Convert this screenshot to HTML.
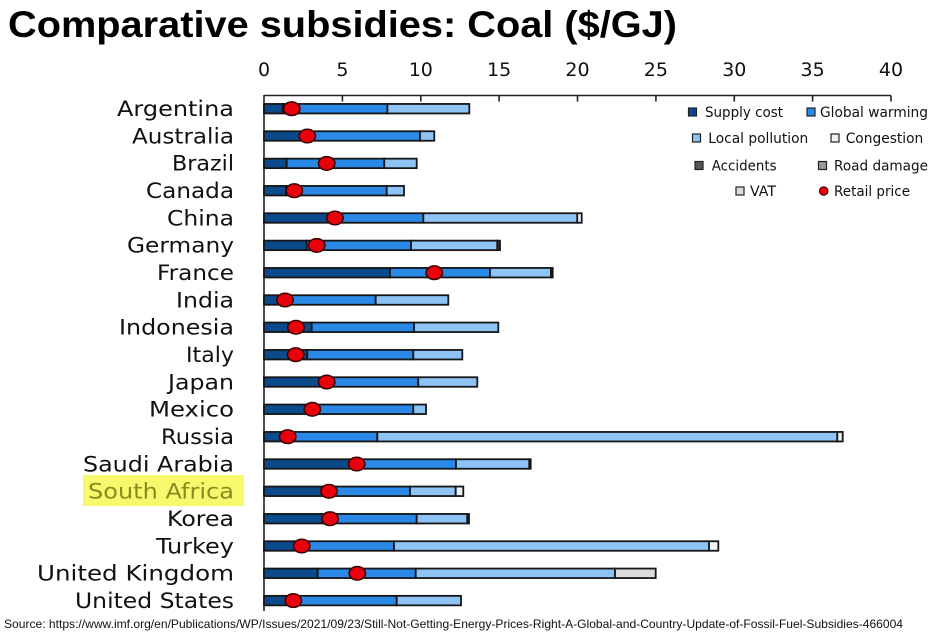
<!DOCTYPE html>
<html><head><meta charset="utf-8"><style>
html,body{margin:0;padding:0;background:#fff;}
svg{display:block;}
</style></head><body>
<svg width="936" height="634" viewBox="0 0 936 634" xmlns="http://www.w3.org/2000/svg">
<rect x="0" y="0" width="936" height="634" fill="#fff"/>
<!-- Title -->
<text x="8" y="37" font-family="Liberation Sans, sans-serif" font-weight="bold" font-size="37" fill="#000" textLength="669" lengthAdjust="spacingAndGlyphs">Comparative subsidies: Coal ($/GJ)</text>

<!-- tick labels -->
<g font-family="DejaVu Sans, sans-serif" font-size="19" fill="#111" text-anchor="middle">
<text x="264" y="76">0</text>
<text x="342.4" y="76">5</text>
<text x="420.8" y="76">10</text>
<text x="499.1" y="76">15</text>
<text x="577.5" y="76">20</text>
<text x="655.9" y="76">25</text>
<text x="734.3" y="76">30</text>
<text x="812.6" y="76">35</text>
<text x="891" y="76">40</text>
</g>

<!-- axes -->
<g stroke="#222" stroke-width="1.6" fill="none">
<line x1="264" y1="95.5" x2="891" y2="95.5"/>
<line x1="264" y1="95" x2="264" y2="611"/>
<line x1="342.4" y1="95.5" x2="342.4" y2="101.5"/>
<line x1="420.8" y1="95.5" x2="420.8" y2="101.5"/>
<line x1="499.1" y1="95.5" x2="499.1" y2="101.5"/>
<line x1="577.5" y1="95.5" x2="577.5" y2="101.5"/>
<line x1="655.9" y1="95.5" x2="655.9" y2="101.5"/>
<line x1="734.3" y1="95.5" x2="734.3" y2="101.5"/>
<line x1="812.6" y1="95.5" x2="812.6" y2="101.5"/>
<line x1="891" y1="95.5" x2="891" y2="101.5"/>
</g>

<!-- highlight -->
<rect x="83" y="475" width="161" height="31" fill="#f8f86c"/>

<!-- labels -->
<g font-family="DejaVu Sans, sans-serif" font-size="21.5" fill="#111" text-anchor="end">
<text x="234" y="116" textLength="117" lengthAdjust="spacingAndGlyphs">Argentina</text>
<text x="234" y="143.3" textLength="102" lengthAdjust="spacingAndGlyphs">Australia</text>
<text x="234" y="170.7" textLength="62" lengthAdjust="spacingAndGlyphs">Brazil</text>
<text x="234" y="198" textLength="88" lengthAdjust="spacingAndGlyphs">Canada</text>
<text x="234" y="225.3" textLength="67" lengthAdjust="spacingAndGlyphs">China</text>
<text x="234" y="252.7" textLength="107" lengthAdjust="spacingAndGlyphs">Germany</text>
<text x="234" y="280" textLength="77" lengthAdjust="spacingAndGlyphs">France</text>
<text x="234" y="307.3" textLength="58" lengthAdjust="spacingAndGlyphs">India</text>
<text x="234" y="334.6" textLength="115" lengthAdjust="spacingAndGlyphs">Indonesia</text>
<text x="234" y="362" textLength="48" lengthAdjust="spacingAndGlyphs">Italy</text>
<text x="234" y="389.3" textLength="66" lengthAdjust="spacingAndGlyphs">Japan</text>
<text x="234" y="416.6" textLength="85" lengthAdjust="spacingAndGlyphs">Mexico</text>
<text x="234" y="444" textLength="73" lengthAdjust="spacingAndGlyphs">Russia</text>
<text x="234" y="471.3" textLength="151" lengthAdjust="spacingAndGlyphs">Saudi Arabia</text>
<text x="234" y="498.6" textLength="146" lengthAdjust="spacingAndGlyphs" fill="#8a8a22">South Africa</text>
<text x="234" y="526" textLength="67" lengthAdjust="spacingAndGlyphs">Korea</text>
<text x="234" y="553.3" textLength="78" lengthAdjust="spacingAndGlyphs">Turkey</text>
<text x="234" y="580.6" textLength="197" lengthAdjust="spacingAndGlyphs">United Kingdom</text>
<text x="234" y="607.9" textLength="159" lengthAdjust="spacingAndGlyphs">United States</text>
</g>

<!-- bars -->
<g stroke="#161616" stroke-width="1.8">
<!-- 0 Argentina -->
<rect x="264" y="103.95" width="18.8" height="9.5" fill="#0b4a8b"/>
<rect x="282.8" y="103.95" width="104.6" height="9.5" fill="#2a88e6"/>
<rect x="387.4" y="103.95" width="81.9" height="9.5" fill="#8fc3f5"/>
<!-- 1 Australia -->
<rect x="264" y="131.25" width="40.8" height="9.5" fill="#0b4a8b"/>
<rect x="304.8" y="131.25" width="115.2" height="9.5" fill="#2a88e6"/>
<rect x="420" y="131.25" width="14.3" height="9.5" fill="#8fc3f5"/>
<!-- 2 Brazil -->
<rect x="264" y="158.65" width="22.7" height="9.5" fill="#0b4a8b"/>
<rect x="286.7" y="158.65" width="97.6" height="9.5" fill="#2a88e6"/>
<rect x="384.3" y="158.65" width="32.4" height="9.5" fill="#8fc3f5"/>
<!-- 3 Canada -->
<rect x="264" y="185.95" width="22" height="9.5" fill="#0b4a8b"/>
<rect x="286" y="185.95" width="100.7" height="9.5" fill="#2a88e6"/>
<rect x="386.7" y="185.95" width="17.3" height="9.5" fill="#8fc3f5"/>
<!-- 4 China -->
<rect x="264" y="213.25" width="67.4" height="9.5" fill="#0b4a8b"/>
<rect x="331.4" y="213.25" width="91.9" height="9.5" fill="#2a88e6"/>
<rect x="423.3" y="213.25" width="154" height="9.5" fill="#8fc3f5"/>
<rect x="577.3" y="213.25" width="4.4" height="9.5" fill="#eef3f8"/>
<!-- 5 Germany -->
<rect x="264" y="240.65" width="42.7" height="9.5" fill="#0b4a8b"/>
<rect x="306.7" y="240.65" width="104.3" height="9.5" fill="#2a88e6"/>
<rect x="411" y="240.65" width="86.3" height="9.5" fill="#8fc3f5"/>
<rect x="497.3" y="240.65" width="2.7" height="9.5" fill="#333"/>
<!-- 6 France -->
<rect x="264" y="267.95" width="126" height="9.5" fill="#0b4a8b"/>
<rect x="390" y="267.95" width="100" height="9.5" fill="#2a88e6"/>
<rect x="490" y="267.95" width="61" height="9.5" fill="#8fc3f5"/>
<rect x="551" y="267.95" width="1.7" height="9.5" fill="#333"/>
<!-- 7 India -->
<rect x="264" y="295.25" width="17.2" height="9.5" fill="#0b4a8b"/>
<rect x="281.2" y="295.25" width="94.5" height="9.5" fill="#2a88e6"/>
<rect x="375.7" y="295.25" width="72.6" height="9.5" fill="#8fc3f5"/>
<!-- 8 Indonesia -->
<rect x="264" y="322.55" width="47.7" height="9.5" fill="#0b4a8b"/>
<rect x="311.7" y="322.55" width="102.3" height="9.5" fill="#2a88e6"/>
<rect x="414" y="322.55" width="84.3" height="9.5" fill="#8fc3f5"/>
<!-- 9 Italy -->
<rect x="264" y="349.95" width="43.3" height="9.5" fill="#0b4a8b"/>
<rect x="307.3" y="349.95" width="106" height="9.5" fill="#2a88e6"/>
<rect x="413.3" y="349.95" width="49" height="9.5" fill="#8fc3f5"/>
<!-- 10 Japan -->
<rect x="264" y="377.25" width="64.3" height="9.5" fill="#0b4a8b"/>
<rect x="328.3" y="377.25" width="90" height="9.5" fill="#2a88e6"/>
<rect x="418.3" y="377.25" width="59" height="9.5" fill="#8fc3f5"/>
<!-- 11 Mexico -->
<rect x="264" y="404.55" width="48.6" height="9.5" fill="#0b4a8b"/>
<rect x="312.6" y="404.55" width="100.7" height="9.5" fill="#2a88e6"/>
<rect x="413.3" y="404.55" width="12.7" height="9.5" fill="#8fc3f5"/>
<!-- 12 Russia -->
<rect x="264" y="431.95" width="22.7" height="9.5" fill="#0b4a8b"/>
<rect x="286.7" y="431.95" width="90.6" height="9.5" fill="#2a88e6"/>
<rect x="377.3" y="431.95" width="460" height="9.5" fill="#8fc3f5"/>
<rect x="837.3" y="431.95" width="5.4" height="9.5" fill="#eef3f8"/>
<!-- 13 Saudi Arabia -->
<rect x="264" y="459.25" width="92.5" height="9.5" fill="#0b4a8b"/>
<rect x="356.5" y="459.25" width="99.5" height="9.5" fill="#2a88e6"/>
<rect x="456" y="459.25" width="73.3" height="9.5" fill="#8fc3f5"/>
<rect x="529.3" y="459.25" width="1.4" height="9.5" fill="#333"/>
<!-- 14 South Africa -->
<rect x="264" y="486.55" width="62.7" height="9.5" fill="#0b4a8b"/>
<rect x="326.7" y="486.55" width="83.3" height="9.5" fill="#2a88e6"/>
<rect x="410" y="486.55" width="45.7" height="9.5" fill="#8fc3f5"/>
<rect x="455.7" y="486.55" width="7.6" height="9.5" fill="#eef3f8"/>
<!-- 15 Korea -->
<rect x="264" y="513.95" width="61.1" height="9.5" fill="#0b4a8b"/>
<rect x="325.1" y="513.95" width="91.6" height="9.5" fill="#2a88e6"/>
<rect x="416.7" y="513.95" width="50.6" height="9.5" fill="#8fc3f5"/>
<rect x="467.3" y="513.95" width="1.7" height="9.5" fill="#333"/>
<!-- 16 Turkey -->
<rect x="264" y="541.25" width="34.5" height="9.5" fill="#0b4a8b"/>
<rect x="298.5" y="541.25" width="95.5" height="9.5" fill="#2a88e6"/>
<rect x="394" y="541.25" width="315" height="9.5" fill="#8fc3f5"/>
<rect x="709" y="541.25" width="9.3" height="9.5" fill="#eef3f8"/>
<!-- 17 UK -->
<rect x="264" y="568.55" width="53.7" height="9.5" fill="#0b4a8b"/>
<rect x="317.7" y="568.55" width="98" height="9.5" fill="#2a88e6"/>
<rect x="415.7" y="568.55" width="199.3" height="9.5" fill="#8fc3f5"/>
<rect x="615" y="568.55" width="40.7" height="9.5" fill="#dcdcdc"/>
<!-- 18 US -->
<rect x="264" y="595.85" width="25.1" height="9.5" fill="#0b4a8b"/>
<rect x="289.1" y="595.85" width="107.6" height="9.5" fill="#2a88e6"/>
<rect x="396.7" y="595.85" width="64.3" height="9.5" fill="#8fc3f5"/>
</g>

<!-- retail price dots -->
<g fill="#e8000b" stroke="#3a0000" stroke-width="1.5">
<ellipse cx="291.7" cy="108.7" rx="8.2" ry="6.8"/>
<ellipse cx="307.3" cy="136.0" rx="8.2" ry="6.8"/>
<ellipse cx="326.7" cy="163.4" rx="8.2" ry="6.8"/>
<ellipse cx="294.3" cy="190.7" rx="8.2" ry="6.8"/>
<ellipse cx="335" cy="218.0" rx="8.2" ry="6.8"/>
<ellipse cx="316.7" cy="245.4" rx="8.2" ry="6.8"/>
<ellipse cx="434.3" cy="272.7" rx="8.2" ry="6.8"/>
<ellipse cx="285" cy="300.0" rx="8.2" ry="6.8"/>
<ellipse cx="296" cy="327.3" rx="8.2" ry="6.8"/>
<ellipse cx="295.7" cy="354.7" rx="8.2" ry="6.8"/>
<ellipse cx="326.7" cy="382.0" rx="8.2" ry="6.8"/>
<ellipse cx="312.3" cy="409.3" rx="8.2" ry="6.8"/>
<ellipse cx="287.7" cy="436.7" rx="8.2" ry="6.8"/>
<ellipse cx="356.7" cy="464.0" rx="8.2" ry="6.8"/>
<ellipse cx="329" cy="491.3" rx="8.2" ry="6.8"/>
<ellipse cx="330" cy="518.7" rx="8.2" ry="6.8"/>
<ellipse cx="301.7" cy="546.0" rx="8.2" ry="6.8"/>
<ellipse cx="357.3" cy="573.3" rx="8.2" ry="6.8"/>
<ellipse cx="293.3" cy="600.6" rx="8.2" ry="6.8"/>
</g>

<!-- legend -->
<g stroke="#222" stroke-width="1.2">
<rect x="688.5" y="108" width="8" height="8" fill="#0b4a8b"/>
<rect x="807" y="108" width="8" height="8" fill="#2a88e6"/>
<rect x="692.5" y="134" width="8" height="8" fill="#8fc3f5"/>
<rect x="831" y="134" width="8" height="8" fill="#eef3f8"/>
<rect x="695" y="161.5" width="8" height="8" fill="#555"/>
<rect x="818.5" y="161.5" width="8" height="8" fill="#999"/>
<rect x="736" y="187" width="8" height="8" fill="#dcdcdc"/>
</g>
<circle cx="823.7" cy="191" r="4.3" fill="#e8000b" stroke="#3a0000" stroke-width="1"/>
<g font-family="DejaVu Sans, sans-serif" font-size="14.5" fill="#111">
<text x="705" y="117" textLength="78" lengthAdjust="spacingAndGlyphs">Supply cost</text>
<text x="820" y="117" textLength="108" lengthAdjust="spacingAndGlyphs">Global warming</text>
<text x="708.3" y="143" textLength="100" lengthAdjust="spacingAndGlyphs">Local pollution</text>
<text x="845.7" y="143" textLength="77.6" lengthAdjust="spacingAndGlyphs">Congestion</text>
<text x="711.7" y="170.5" textLength="65" lengthAdjust="spacingAndGlyphs">Accidents</text>
<text x="834" y="170.5" textLength="94" lengthAdjust="spacingAndGlyphs">Road damage</text>
<text x="750" y="196" textLength="26" lengthAdjust="spacingAndGlyphs">VAT</text>
<text x="834" y="196" textLength="76" lengthAdjust="spacingAndGlyphs">Retail price</text>
</g>

<!-- source -->
<text x="4" y="628" font-family="Liberation Sans, sans-serif" font-size="12" fill="#111" textLength="899" lengthAdjust="spacingAndGlyphs">Source: https://www.imf.org/en/Publications/WP/Issues/2021/09/23/Still-Not-Getting-Energy-Prices-Right-A-Global-and-Country-Update-of-Fossil-Fuel-Subsidies-466004</text>
</svg>
</body></html>
